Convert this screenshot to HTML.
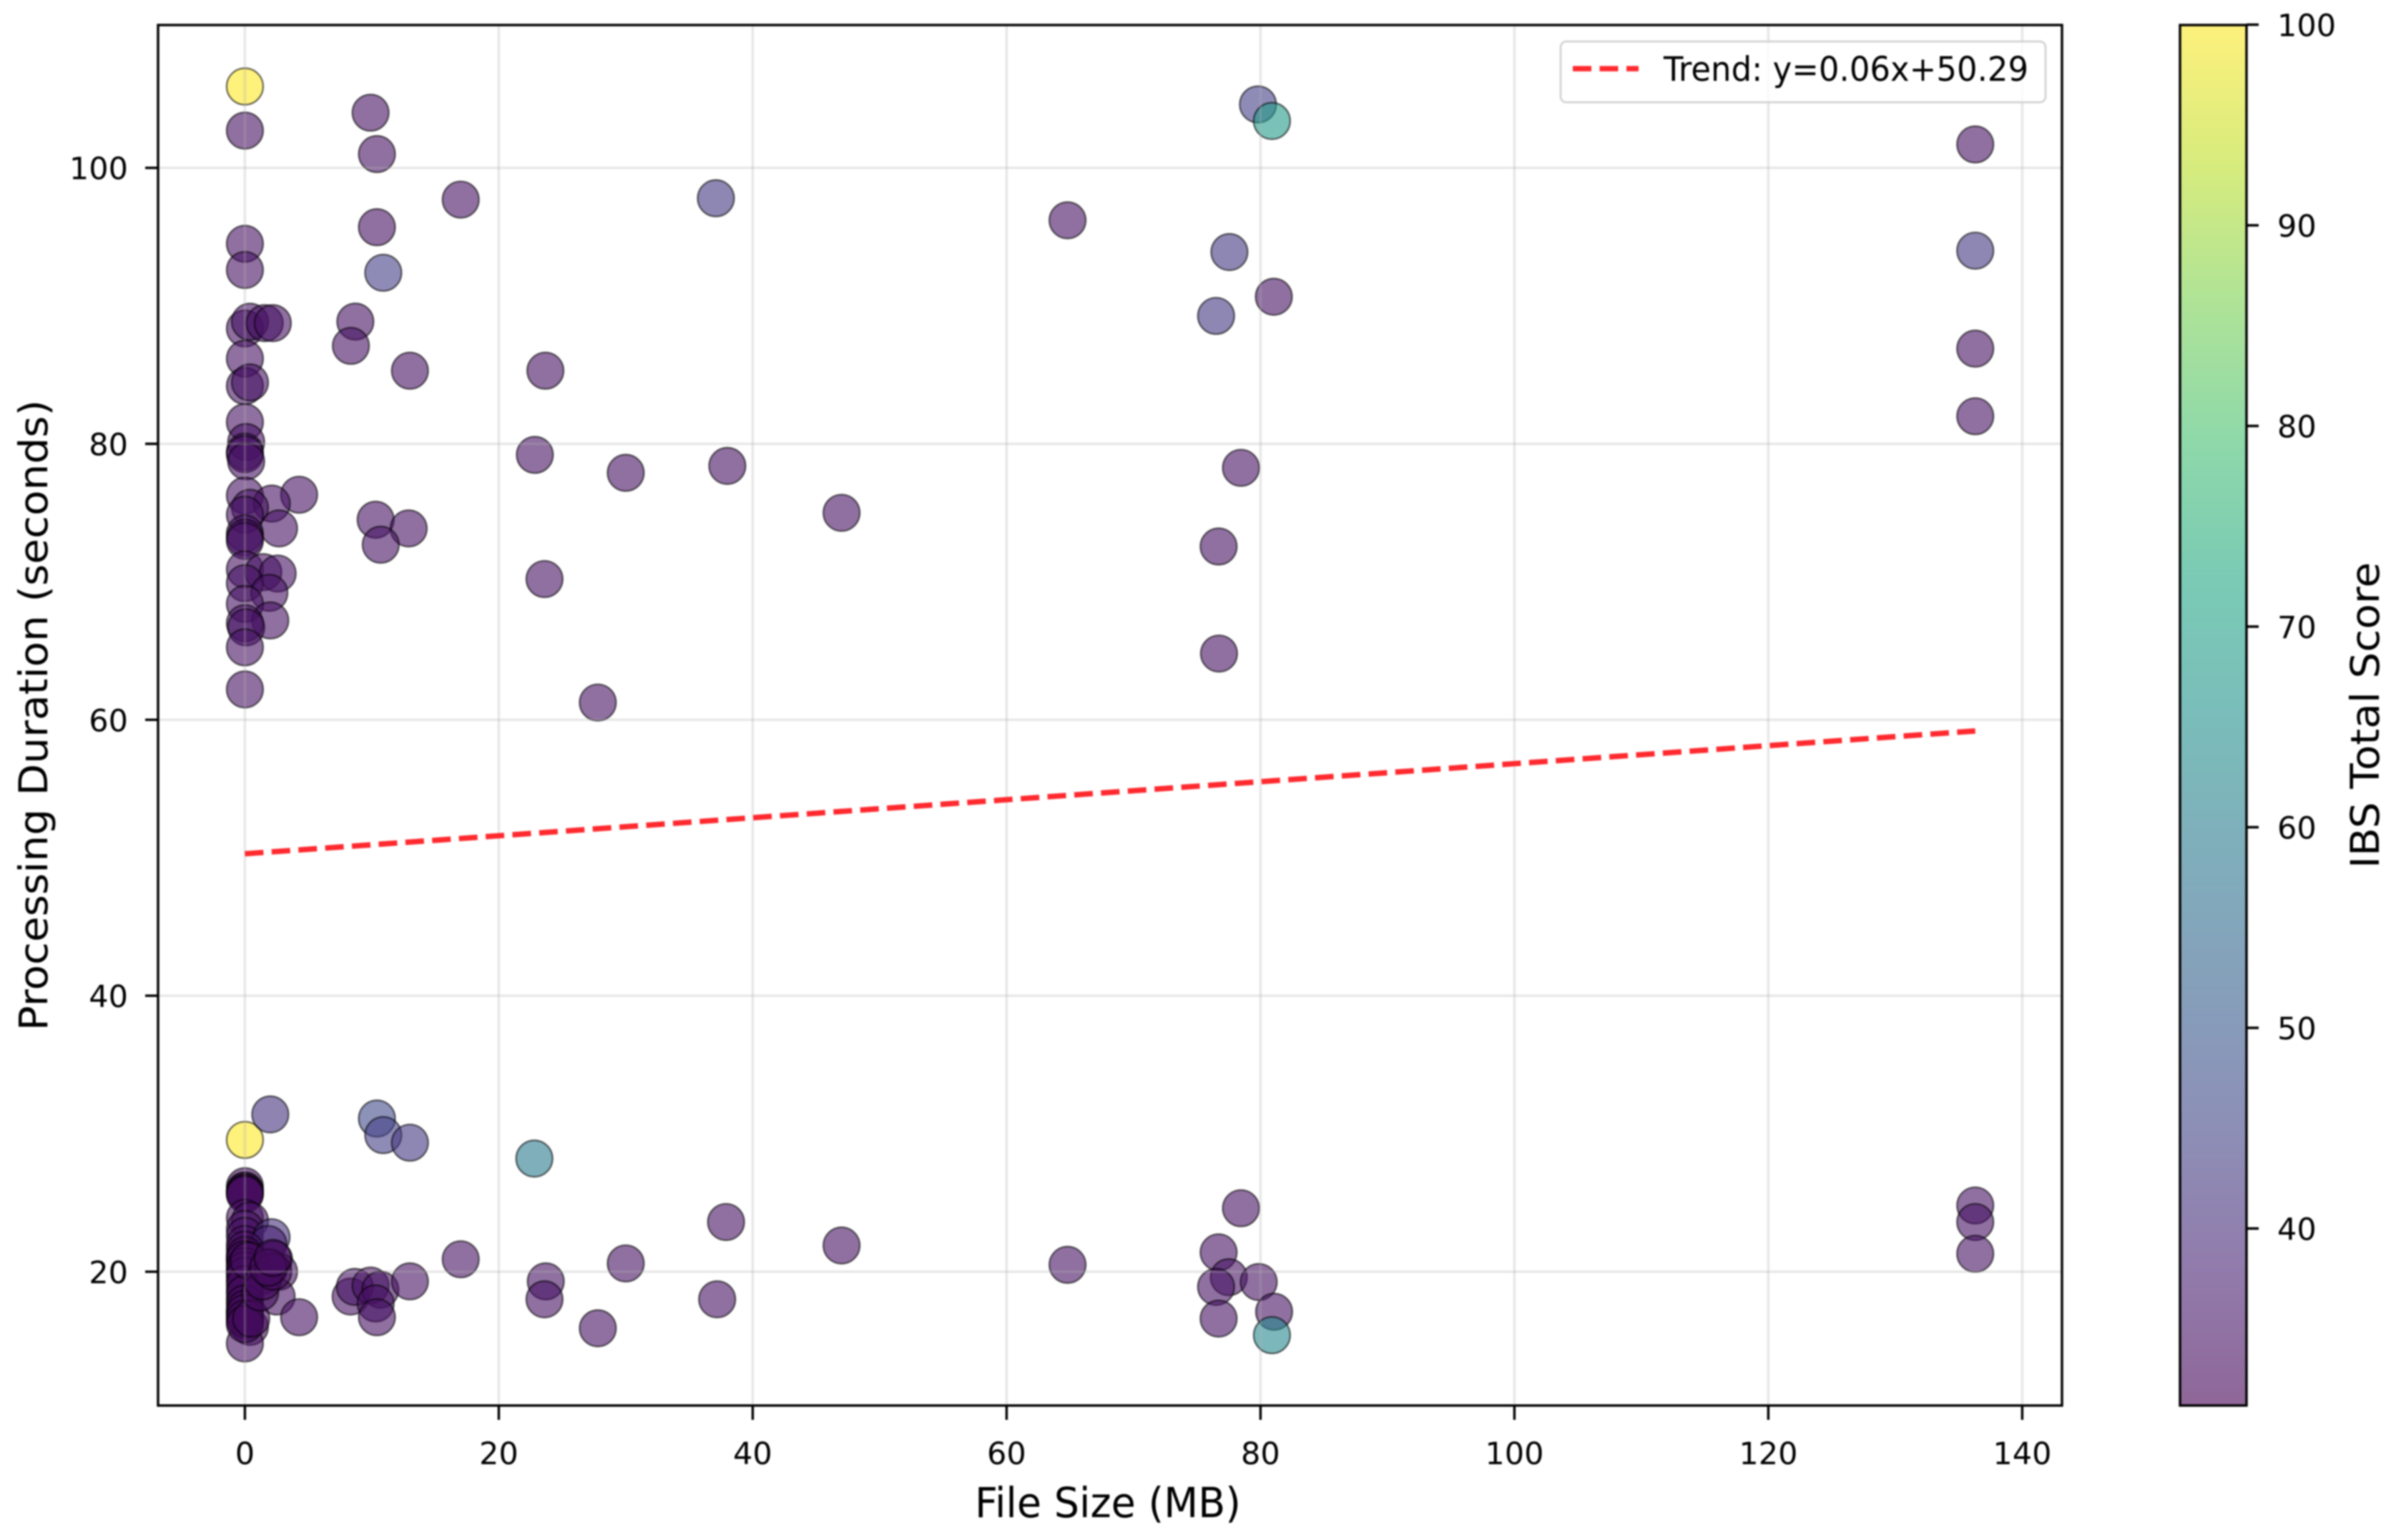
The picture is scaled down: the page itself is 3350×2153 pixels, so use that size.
<!DOCTYPE html>
<html lang="en">
<head>
<meta charset="utf-8">
<title>Processing Duration vs File Size</title>
<style>
html,body{margin:0;padding:0;background:#fff;}
body{width:3350px;height:2153px;overflow:hidden;}
#chart{display:block;filter:blur(1px);}
text{font-family:"DejaVu Sans","Liberation Sans",sans-serif;fill:#000;}
</style>
</head>
<body>
<svg id="chart" xmlns="http://www.w3.org/2000/svg" width="3350" height="2153" viewBox="0 0 3350 2153">
  <defs><linearGradient id="cbar-gradient" x1="0" y1="1" x2="0" y2="0"></linearGradient></defs>
  <rect x="0" y="0" width="3350" height="2153" fill="#fff"/>
  <g id="points"></g>
  <g id="grid"></g>
  <polyline id="trend" fill="none" stroke="#ff2a2f" stroke-width="7.6" stroke-dasharray="26 11.5"/>
  <rect x="221" y="35" width="2662" height="1930" fill="none" stroke="#000" stroke-width="3.4"/>
  <g id="x-axis"></g>
  <g id="y-axis"></g>
  <text transform="translate(1549,2121) scale(1,1.045)" font-size="55.6" text-anchor="middle">File Size (MB)</text>
  <text transform="translate(66,1000) rotate(-90) scale(1.045,1)" font-size="55.6" text-anchor="middle">Processing Duration (seconds)</text>
  <g>
    <rect x="2182" y="58" width="678" height="85" rx="8" fill="#fff" fill-opacity="0.8" stroke="#ccc" stroke-opacity="0.8" stroke-width="3"/>
    <line x1="2199" y1="96" x2="2291" y2="96" stroke="#ff2a2f" stroke-width="7.6" stroke-dasharray="26 11.5"/>
    <text transform="translate(2326,113) scale(1,1.05)" font-size="45">Trend: y=0.06x+50.29</text>
  </g>
  <rect x="3048" y="35" width="93" height="1930" fill="url(#cbar-gradient)"/>
  <rect x="3048" y="35" width="93" height="1930" fill="none" stroke="#000" stroke-width="3.4"/>
  <g id="cbar-axis"></g>
  <text transform="translate(3326,1000) rotate(-90) scale(1.045,1)" font-size="55.6" text-anchor="middle">IBS Total Score</text>
</svg>
<script>
var fileSizes = [
  0,0,9.9,10.4,17,37.1,64.8,79.8,80.9,136.3,
  0,0,10.4,10.9,77.55,136.3,81.05,76.5,
  0,0.4,1.56,2.2,8.7,8.35,13,23.67,136.3,
  0,0,0.4,136.3,0,0.1,0,0,0.1,
  22.84,30,38,78.46,0,4.27,2.12,0.4,0,2.69,
  10.3,12.9,10.7,0,0,0,47,76.7,23.6,
  0,1.45,2.58,0,1.93,0,2,0,0.1,0,0,27.8,76.73,
  0,2,10.4,10.9,13,22.8,
  0,0,0,0,0,
  0,0.4,0,0,0,2.1,1.85,2.3,1.94,2.69,
  0,0,0,0,0,0,0,0,0,0.4,0,1.45,2.5,4.27,
  8.33,8.66,9.9,10.67,10.3,10.4,13,17,
  23.7,23.6,37.2,27.8,30,37.9,47,64.8,
  78.46,76.7,77.5,76.5,79.86,81.07,76.7,80.9,
  136.3,136.3,136.3,
  0,0,0,0,0,0,0,0,0,0,0,0,0,0.3,0.5,1.2,1.4,2.23,1.84,2.2
];
var durations = [
  105.9,102.7,104,101,97.7,97.8,96.2,104.6,103.4,101.7,
  94.5,92.6,95.7,92.4,93.9,94,90.66,89.27,
  88.36,88.85,88.75,88.75,88.86,87.1,85.3,85.3,86.9,
  86.17,84.19,84.45,82,81.57,80.13,79.43,79.25,78.73,
  79.2,77.9,78.4,78.26,76.25,76.31,75.67,75.36,74.86,73.87,
  74.5,73.87,72.69,73.5,73.2,72.97,75,72.56,70.2,
  70.9,70.7,70.6,69.9,69.2,68.4,67.2,67,66.7,65.25,62.2,61.25,64.8,
  29.55,31.4,31.1,29.9,29.35,28.2,
  26.2,25.9,25.8,25.7,25.6,
  23.9,23.7,23.1,22.6,22,22.5,22,20.9,20.3,20,
  21,20.7,20,19.4,18.7,18,17.1,16.8,16.4,16,14.8,19.7,18.2,16.7,
  18.2,18.9,19,18.7,17.7,16.7,19.3,20.9,
  19.3,18,18,15.9,20.6,23.6,21.9,20.5,
  24.6,21.4,19.6,18.9,19.25,17.1,16.6,15.4,
  24.8,23.6,21.3,
  21.6,21.2,20.9,20.4,20.1,19.7,19.1,18.4,17.7,17.3,17,16.6,16.2,20.8,16.6,18.5,19.3,20,20.3,21
];
var scores = [
  100,34,34,34,34,42,34,44,68,34,
  34,34,34,44,42,42,34,42,
  34,34,34,34,34,34,34,34,34,
  34,34,34,34,34,34,34,34,34,
  34,34,34,34,34,34,34,34,34,34,
  34,34,34,34,34,34,34,34,34,
  34,34,34,34,34,34,34,34,34,34,34,34,34,
  100,41,46,44,42,59,
  33,33,33,33,33,
  34,34,34,34,34,40,37,34,34,34,
  34,34,34,34,34,34,34,34,34,34,34,34,34,34,
  34,34,34,34,34,34,34,34,
  34,34,34,34,34,34,34,34,
  34,34,34,34,34,34,34,63,
  34,34,34,
  33,33,33,33,33,33,33,33,33,33,33,33,33,33,33,33,33,33,33,33
];
var xTicks = [0,20,40,60,80,100,120,140];
var yTicks = [20,40,60,80,100];
var colorTicks = [40,50,60,70,80,90,100];
var trendSlope = 0.0653;
var trendIntercept = 50.29;
var trendRange = [0,136.3];
var scoreRange = [31,100];
var viridis = ['#440154','#482475','#414487','#355f8d','#2a788e','#21918c','#22a884','#44bf70','#7ad151','#bddf26','#fde725'];

var NS = 'http://www.w3.org/2000/svg';
function sx(v){return 342.4 + 17.75*v;}
function sy(v){return 234.7 + (100-v)*19.29;}
function scoreY(v){return 34.5 + (100-v)*28.05;}
function hex(c){return [parseInt(c.substr(1,2),16),parseInt(c.substr(3,2),16),parseInt(c.substr(5,2),16)];}
function cmap(t){
  t = Math.max(0,Math.min(1,t));
  var p = t*(viridis.length-1), i = Math.min(Math.floor(p),viridis.length-2), f = p-i;
  var a = hex(viridis[i]), b = hex(viridis[i+1]);
  return 'rgb('+Math.round(a[0]+(b[0]-a[0])*f)+','+Math.round(a[1]+(b[1]-a[1])*f)+','+Math.round(a[2]+(b[2]-a[2])*f)+')';
}
function make(tag,attrs,parent){
  var el = document.createElementNS(NS,tag);
  for(var k in attrs){el.setAttribute(k,attrs[k]);}
  parent.appendChild(el);
  return el;
}
var pointsG = document.getElementById('points');
var gridG = document.getElementById('grid');
var xAxis = document.getElementById('x-axis');
var yAxis = document.getElementById('y-axis');
var cbarAxis = document.getElementById('cbar-axis');
var gradient = document.getElementById('cbar-gradient');

fileSizes.forEach(function(x,i){
  var norm = (scores[i]-scoreRange[0])/(scoreRange[1]-scoreRange[0]);
  var c = make('circle',{cx:sx(x),cy:sy(durations[i]),r:25.5,fill:cmap(norm),'fill-opacity':0.6,stroke:'#000','stroke-opacity':0.6,'stroke-width':2.2},pointsG);
  
  
});

xTicks.forEach(function(t){
  var g = make('line',{x1:sx(t),x2:sx(t),y1:35,y2:1965,stroke:'#b0b0b0','stroke-opacity':0.3,'stroke-width':3.4},gridG);
  
  
  var m = make('line',{x1:sx(t),x2:sx(t),y1:1965,y2:1985,stroke:'#000','stroke-width':3.4},xAxis);
  
  
  var l = make('text',{x:sx(t),y:2047,'font-size':43,'text-anchor':'middle'},xAxis);
  l.textContent = String(t);
  
  
});
yTicks.forEach(function(t){
  var g = make('line',{x1:221,x2:2883,y1:sy(t),y2:sy(t),stroke:'#b0b0b0','stroke-opacity':0.3,'stroke-width':3.4},gridG);
  
  
  var m = make('line',{x1:203,x2:221,y1:sy(t),y2:sy(t),stroke:'#000','stroke-width':3.4},yAxis);
  
  
  var l = make('text',{x:179,y:sy(t)+16,'font-size':43,'text-anchor':'end'},yAxis);
  l.textContent = String(t);
  
  
});
colorTicks.forEach(function(t){
  var m = make('line',{x1:3141,x2:3158,y1:scoreY(t),y2:scoreY(t),stroke:'#000','stroke-width':3.4},cbarAxis);
  
  
  var l = make('text',{x:3184,y:scoreY(t)+16,'font-size':43},cbarAxis);
  l.textContent = String(t);
  
  
});
viridis.forEach(function(c,i){
  var s = make('stop',{offset:i/(viridis.length-1),'stop-color':c,'stop-opacity':0.6},gradient);
  
  
});
document.getElementById('trend').setAttribute('points',trendRange.map(function(x){
  return sx(x)+','+sy(trendSlope*x+trendIntercept);
}).join(' '));
</script>
</body>
</html>
